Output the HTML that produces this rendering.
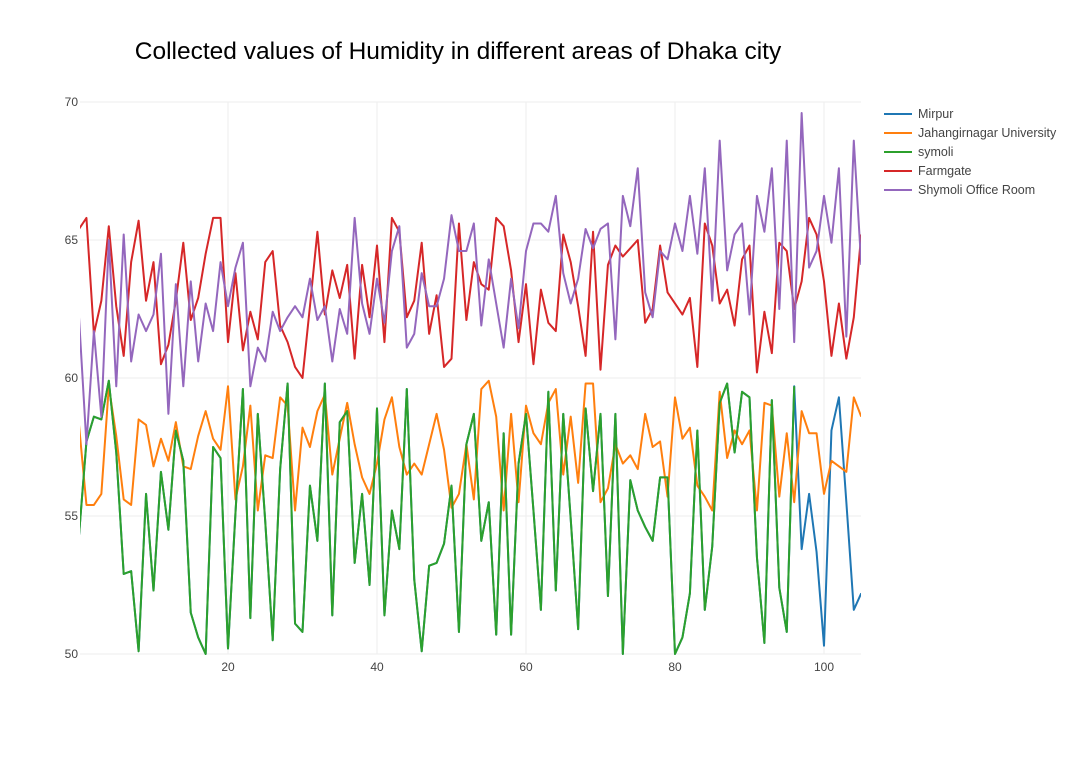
<!DOCTYPE html>
<html><head><meta charset="utf-8">
<style>
html,body{margin:0;padding:0;background:#fff;}
svg{display:block;font-family:"Liberation Sans",Arial,sans-serif;}
</style></head>
<body>
<svg id="chart" width="1076" height="763" viewBox="0 0 1076 763" xmlns="http://www.w3.org/2000/svg">
<defs><clipPath id="plotclip"><rect x="80" y="88" width="781" height="570"/></clipPath></defs>
<text x="458" y="59" text-anchor="middle" font-size="24.5" fill="#000">Collected values of Humidity in different areas of Dhaka city</text>
<g id="grid"></g>
<g id="series" clip-path="url(#plotclip)"></g>
<g id="axes"></g>
<g id="legend"></g>
</svg>
<script>
const xTicks = [20, 40, 60, 80, 100];
const yTicks = [50, 55, 60, 65, 70];
const seriesNames = ["Mirpur", "Jahangirnagar University", "symoli", "Farmgate", "Shymoli Office Room"];
const seriesColors = ["#1f77b4", "#ff7f0e", "#2ca02c", "#d62728", "#9467bd"];

const symoli = [54.3,57.7,58.6,58.5,59.9,57.3,52.9,53.0,50.1,55.8,52.3,56.6,54.5,58.1,57.0,51.5,50.6,50.0,57.5,57.1,50.2,55.1,59.6,51.3,58.7,54.8,50.5,
56.7,59.8,51.1,50.8,56.1,54.1,59.8,51.4,58.4,58.8,53.3,55.8,52.5,58.9,51.4,55.2,53.8,59.6,52.7,50.1,53.2,53.3,54.0,56.1,50.8,57.6,
58.7,54.1,55.5,50.7,58.0,50.7,56.9,58.7,55.2,51.6,59.5,52.3,58.7,54.9,50.9,58.9,55.9,58.7,52.1,58.7,50.0,56.3,55.2,54.6,54.1,56.4,
56.4,50.0,50.6,52.2,58.1,51.6,53.9,59.1,59.8,57.3,59.5,59.3,53.5,50.4,59.2,52.4,50.8,59.7];
const mirpur = symoli.concat([53.8,55.8,53.7,50.3,58.1,59.3,55.5,51.6,52.2]);
const jahangirnagar = [58.3,55.4,55.4,55.8,59.7,57.9,55.6,55.4,58.5,58.3,56.8,57.8,57.0,58.4,56.8,56.7,57.9,58.8,57.8,57.4,59.7,55.6,56.8,59.0,55.2,57.2,57.1,
59.3,59.0,55.2,58.2,57.5,58.8,59.4,56.5,57.8,59.1,57.6,56.4,55.8,56.9,58.5,59.3,57.5,56.5,56.9,56.5,57.6,58.7,57.4,55.3,55.8,57.6,
55.6,59.6,59.9,58.6,55.2,58.7,55.5,59.0,58.0,57.6,59.1,59.6,56.5,58.6,56.2,59.8,59.8,55.5,56.0,57.6,56.9,57.2,56.7,58.7,57.5,57.7,
55.7,59.3,57.8,58.2,56.1,55.7,55.2,59.5,57.1,58.1,57.6,58.1,55.2,59.1,59.0,55.7,58.0,55.5,58.8,58.0,58.0,55.8,57.0,56.8,56.6,59.3,58.6];
const farmgate = [65.4,65.8,61.6,62.8,65.5,62.6,60.8,64.2,65.7,62.8,64.2,60.5,61.2,62.8,64.9,62.1,62.9,64.5,65.8,65.8,61.3,63.8,61.0,62.4,61.4,64.2,64.6,
61.9,61.3,60.4,60.0,62.6,65.3,62.3,63.9,62.9,64.1,60.7,64.1,62.2,64.8,61.3,65.8,65.3,62.2,62.8,64.9,61.6,63.0,60.4,60.7,65.6,62.1,
64.2,63.4,63.2,65.8,65.5,63.9,61.3,63.4,60.5,63.2,62.0,61.7,65.2,64.2,62.6,60.8,65.3,60.3,64.1,64.8,64.4,64.7,65.0,62.0,62.5,64.8,
63.1,62.7,62.3,62.9,60.4,65.6,64.8,62.7,63.2,61.9,64.3,64.8,60.2,62.4,60.9,64.9,64.6,62.5,63.5,65.8,65.2,63.5,60.8,62.7,60.7,62.2,65.2];
const shymoliOffice = [62.2,57.6,61.7,58.6,65.0,59.7,65.2,60.6,62.3,61.7,62.3,64.5,58.7,63.4,59.7,63.5,60.6,62.7,61.7,64.2,62.6,64.0,64.9,59.7,61.1,60.6,62.4,
61.7,62.2,62.6,62.2,63.6,62.1,62.6,60.6,62.5,61.6,65.8,62.7,61.6,63.6,62.0,64.6,65.5,61.1,61.6,63.8,62.6,62.6,63.6,65.9,64.6,64.6,
65.6,61.9,64.3,62.7,61.1,63.6,61.8,64.6,65.6,65.6,65.3,66.6,63.8,62.7,63.6,65.4,64.7,65.4,65.6,61.4,66.6,65.5,67.6,63.1,62.2,64.6,
64.3,65.6,64.6,66.6,64.5,67.6,62.8,68.6,63.9,65.2,65.6,62.3,66.6,65.3,67.6,62.5,68.6,61.3,69.6,64.0,64.6,66.6,64.9,67.6,61.5,68.6,64.1];
const allSeries = [mirpur, jahangirnagar, symoli, farmgate, shymoliOffice];

const NS = "http://www.w3.org/2000/svg";
function xScale(v){ return 79 + v * 7.45; }
function yScale(v){ return 654 - (v - 50) * 27.6; }
function mk(tag, attrs){ const e = document.createElementNS(NS, tag); for (const k in attrs) e.setAttribute(k, attrs[k]); return e; }

const grid = document.getElementById('grid');
const axes = document.getElementById('axes');
yTicks.forEach(t => {
  const l = mk('line', {x1:80, x2:861, y1:yScale(t), y2:yScale(t), stroke:'#eeeeee', 'stroke-width':1});
  
  
  grid.appendChild(l);
  const tx = mk('text', {x:78, y:yScale(t)+4, 'text-anchor':'end', 'font-size':12, fill:'#444'});
  tx.textContent = t;
  
  
  axes.appendChild(tx);
});
xTicks.forEach(t => {
  const l = mk('line', {x1:xScale(t), x2:xScale(t), y1:102, y2:654, stroke:'#eeeeee', 'stroke-width':1});
  
  
  grid.appendChild(l);
  const tx = mk('text', {x:xScale(t), y:671, 'text-anchor':'middle', 'font-size':12, fill:'#444'});
  tx.textContent = t;
  
  
  axes.appendChild(tx);
});

const sg = document.getElementById('series');
allSeries.forEach((arr, si) => {
  const pts = arr.map((v, i) => xScale(i).toFixed(2) + ',' + yScale(v).toFixed(2)).join(' ');
  const p = mk('polyline', {points:pts, fill:'none', stroke:seriesColors[si], 'stroke-width':2, 'stroke-linejoin':'round'});
  
  
  sg.appendChild(p);
});

const lg = document.getElementById('legend');
seriesNames.forEach((n, i) => {
  const y = 114 + i * 19;
  const g = mk('g', {});
  
  
  g.appendChild(mk('line', {x1:884, x2:912, y1:y, y2:y, stroke:seriesColors[i], 'stroke-width':2}));
  const t = mk('text', {x:918, y:y+4, 'font-size':12.5, fill:'#444'});
  t.textContent = n;
  g.appendChild(t);
  lg.appendChild(g);
});
</script>
</body></html>
